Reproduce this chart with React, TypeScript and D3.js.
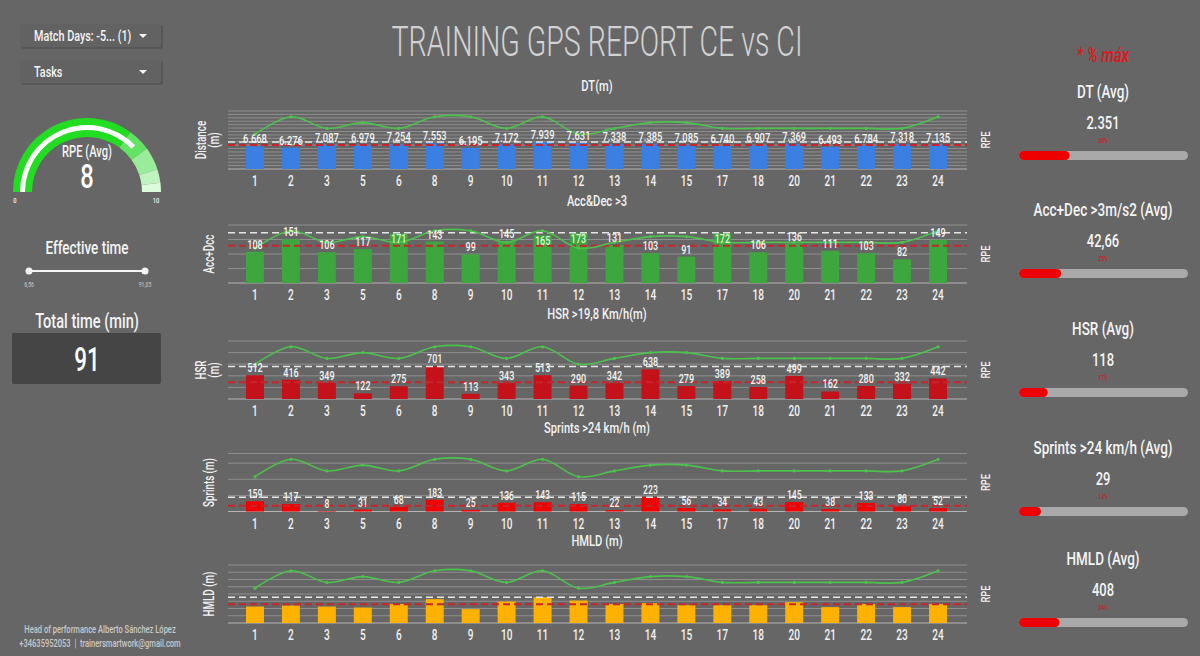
import React from 'react';
import * as d3 from 'd3';

const FONT = "Roboto, 'Liberation Sans', sans-serif";
// condensed look: squeeze glyphs horizontally
const SQ = 0.72;

// training sessions on the x axis
const sessions = ['1', '2', '3', '5', '6', '8', '9', '10', '11', '12', '13', '14', '15', '17', '18', '20', '21', '22', '23', '24'];
// session RPE (secondary axis, 0-10)
const rpe = [6, 9, 7, 8, 7, 9, 9, 7, 9, 6, 7, 8, 8, 7, 7, 7, 7, 7, 7, 9];

const distance = [6668, 6276, 7087, 6979, 7254, 7553, 6195, 7172, 7939, 7631, 7338, 7385, 7085, 6740, 6907, 7369, 6493, 6784, 7318, 7135];
const accDec = [108, 151, 106, 117, 171, 143, 99, 145, 165, 173, 131, 103, 91, 172, 106, 136, 111, 103, 82, 149];
const hsr = [512, 416, 349, 122, 275, 701, 113, 343, 513, 290, 342, 638, 279, 389, 258, 499, 162, 280, 332, 442];
const sprints = [159, 117, 8, 31, 68, 183, 25, 136, 143, 115, 22, 223, 56, 34, 43, 145, 38, 133, 80, 52];
const hmld = [568, 603, 568, 534, 651, 822, 479, 740, 890, 774, 650, 685, 616, 616, 616, 719, 548, 650, 548, 650];

// KPI cards on the right
const kpiTitles = ['DT (Avg)', 'Acc+Dec >3m/s2 (Avg)', 'HSR (Avg)', 'Sprints >24 km/h (Avg)', 'HMLD (Avg)'];
const kpiValues = ['2.351', '42,66', '118', '29', '408'];
const kpiPct = [30, 25, 17, 13, 24];

const effectiveRange = [6.56, 91.05];
const totalTime = 91;

const es = d3.formatLocale({ decimal: ',', thousands: '.', grouping: [3], currency: ['', '€'] });
const fmtInt = es.format(',d');
const fmtDec = es.format('.2f');

type Panel = {
  title: string;
  axis: string[];
  values: number[];
  max: number;
  ticks: number[];
  color: string;
  labels: boolean;
  inside?: number;
  labelSize: number;
};

const panels: Panel[] = [
  { title: 'DT(m)', axis: ['Distance', '(m)'], values: distance, max: 17000, ticks: d3.range(0, 17001, 1000), color: '#3b7fe2', labels: true, labelSize: 13 },
  { title: 'Acc&Dec >3', axis: ['Acc+Dcc'], values: accDec, max: 200, ticks: d3.range(0, 201, 50), color: '#3ea63e', labels: true, inside: 160, labelSize: 12.5 },
  { title: 'HSR >19,8 Km/h(m)', axis: ['HSR', '(m)'], values: hsr, max: 1250, ticks: d3.range(0, 1251, 250), color: '#c4121b', labels: true, labelSize: 12.5 },
  { title: 'Sprints >24 km/h (m)', axis: ['Sprints (m)'], values: sprints, max: 900, ticks: [0, 250, 500, 750, 900], color: '#f00000', labels: true, labelSize: 12 },
  { title: 'HMLD (m)', axis: ['HMLD (m)'], values: hmld, max: 2000, ticks: d3.range(0, 2001, 250), color: '#ffb100', labels: false, labelSize: 12 },
];

const panelTops = [111, 225, 341, 453.5, 565];
const titleYs = [90.5, 205.5, 318.5, 432.5, 545.5];
const plotH = 58;

const x = d3.scaleBand<string>().domain(sessions).range([237, 956]).paddingInner(0.5).paddingOuter(0.25);
const gridX0 = 228;
const gridX1 = 967;

function T({ x, y, rotate, s = SQ, children, ...rest }: any) {
  const tr = `translate(${x},${y})${rotate ? ` rotate(${rotate})` : ''} scale(${s},1)`;
  return <text transform={tr} fontWeight={500} {...rest}>{children}</text>;
}

function ChartPanel({ p, top, titleY }: { p: Panel; top: number; titleY: number }) {
  const base = top + plotH;
  const y = d3.scaleLinear().domain([0, p.max]).range([base, top]);
  const y2 = d3.scaleLinear().domain([0, 10]).range([base, top]);
  const maxV = d3.max(p.values) as number;
  const avgV = d3.mean(p.values) as number;
  const cx = (i: number) => (x(sessions[i]) as number) + x.bandwidth() / 2;
  const line = d3.line<number>()
    .x((_, i) => cx(i))
    .y(d => y2(d))
    .curve(d3.curveCardinal);
  const midY = top + plotH / 2;
  return (
    <g>
      <T x={597} y={titleY} textAnchor="middle" fontSize={15.5} fill="#f2f2f2">{p.title}</T>
      {p.ticks.map(t => (
        <line key={t} x1={gridX0} x2={gridX1} y1={y(t)} y2={y(t)} stroke={t === 0 ? '#b4b4b4' : '#8f8f8f'} strokeWidth={1} />
      ))}
      {p.values.map((v, i) => (
        <rect key={i} x={x(sessions[i])} y={y(v)} width={x.bandwidth()} height={base - y(v)} fill={p.color} />
      ))}
      <line x1={gridX0} x2={gridX1} y1={y(maxV)} y2={y(maxV)} stroke="#e6e6e6" strokeWidth={1.5} strokeDasharray="7,4" />
      <line x1={gridX0} x2={gridX1} y1={y(avgV)} y2={y(avgV)} stroke="#c8262c" strokeWidth={2} strokeDasharray="7,4" />
      <path d={line(rpe) || ''} fill="none" stroke="#4cc24c" strokeWidth={1.6} />
      {rpe.map((r, i) => (
        <circle key={i} cx={cx(i)} cy={y2(r)} r={1.6} fill="#4cc24c" />
      ))}
      {p.labels && p.values.map((v, i) => {
        const inside = p.inside !== undefined && v >= p.inside;
        return (
          <T key={i} x={cx(i)} y={inside ? y(v) + 10 : y(v) - 3} textAnchor="middle" fontSize={p.labelSize}
            fill={inside ? '#dcf7dc' : '#f4f4f4'}>
            {fmtInt(v)}
          </T>
        );
      })}
      {sessions.map((s, i) => (
        <T key={s} x={cx(i)} y={base + 17} textAnchor="middle" fontSize={14} fill="#f2f2f2">{s}</T>
      ))}
      <T x={p.axis.length > 1 ? 206 : 214} y={midY} rotate={-90} s={0.7} textAnchor="middle" fontSize={14} fill="#f2f2f2">
        {p.axis.map((a: string, k: number) => (
          <tspan key={k} x={0} dy={k === 0 ? 0 : 13}>{a}</tspan>
        ))}
      </T>
      <T x={990} y={midY} rotate={-90} textAnchor="middle" fontSize={13} fill="#f2f2f2">RPE</T>
    </g>
  );
}

function Gauge() {
  const cx = 87;
  const cy = 192;
  const rpeAvg = d3.mean(rpe) as number;
  const a = d3.scaleLinear().domain([0, 10]).range([-Math.PI / 2, Math.PI / 2]);
  const bands = [
    { from: 0, to: 7, color: '#22dd22' },
    { from: 7, to: 8, color: '#62e462' },
    { from: 8, to: 9, color: '#9aec9a' },
    { from: 9, to: 9.6, color: '#bff3bf' },
    { from: 9.6, to: 10, color: '#dcfadc' },
  ];
  const bandArc = d3.arc<{ from: number; to: number }>()
    .innerRadius(55).outerRadius(74)
    .startAngle(d => a(d.from)).endAngle(d => a(d.to));
  const valueArc = d3.arc()({ innerRadius: 62, outerRadius: 67, startAngle: a(0), endAngle: a(rpeAvg) });
  return (
    <g transform={`translate(${cx},${cy})`}>
      {bands.map((b, i) => <path key={i} d={bandArc(b) || ''} fill={b.color} />)}
      <path d={valueArc || ''} fill="#ffffff" />
      <T x={0} y={-35} s={0.7} textAnchor="middle" fontSize={16} fill="#f4f4f4">RPE (Avg)</T>
      <T x={0} y={-4} s={0.7} textAnchor="middle" fontSize={34} fill="#ffffff">{d3.format('.0f')(rpeAvg)}</T>
      <T x={-72} y={11} textAnchor="middle" fontSize={8} fill="#f0f0f0">0</T>
      <T x={69} y={11} textAnchor="middle" fontSize={8} fill="#f0f0f0">10</T>
    </g>
  );
}

function Dropdown({ y, label }: { y: number; label: string }) {
  return (
    <g>
      <rect x={21} y={y + 1} width={142} height={24} fill="#575757" rx={2} />
      <rect x={20} y={y} width={141} height={23} fill="#626262" rx={2} />
      <T x={34} y={y + 17} fontSize={15} fill="#f4f4f4">{label}</T>
      <path d={`M${139},${y + 10}L${147},${y + 10}L${143},${y + 14}Z`} fill="#f4f4f4" />
    </g>
  );
}

function LeftPanel() {
  const sx = d3.scaleLinear().domain(effectiveRange).range([29, 145]);
  return (
    <g>
      <Dropdown y={24} label="Match Days: -5... (1)" />
      <Dropdown y={60} label="Tasks" />
      <Gauge />
      <T x={87} y={254} s={0.75} textAnchor="middle" fontSize={18} fill="#f4f4f4">Effective time</T>
      <line x1={sx(effectiveRange[0])} x2={sx(effectiveRange[1])} y1={271} y2={271} stroke="#f4f4f4" strokeWidth={2} />
      {effectiveRange.map((v, i) => (
        <g key={i}>
          <circle cx={sx(v)} cy={271} r={3.5} fill="#f4f4f4" />
          <T x={sx(v)} y={287} textAnchor="middle" fontSize={7} fill="#bdbdbd">{fmtDec(v)}</T>
        </g>
      ))}
      <T x={87} y={328} s={0.73} textAnchor="middle" fontSize={20} fill="#f4f4f4">Total time (min)</T>
      <rect x={12} y={333} width={149} height={51} rx={2} fill="#454545" />
      <T x={87} y={371} s={0.68} textAnchor="middle" fontSize={33} fill="#ffffff">{totalTime}</T>
      <T x={100} y={633} textAnchor="middle" fontSize={10.5} fill="#c8c8c8">Head of performance Alberto Sánchez López</T>
      <T x={100} y={647} textAnchor="middle" fontSize={10.5} fill="#c8c8c8">{'+34635952053\u00a0\u00a0|\u00a0\u00a0trainersmartwork@gmail.com'}</T>
    </g>
  );
}

function RightPanel() {
  const kpiTops = [92, 210, 329, 448, 559];
  const bx = d3.scaleLinear().domain([0, 100]).range([1019, 1188]);
  return (
    <g>
      <T x={1103} y={62} s={0.75} textAnchor="middle" fontSize={20} fontStyle="italic" fill="#e0161c">* % máx</T>
      {kpiTitles.map((t, i) => {
        const ty = kpiTops[i];
        return (
          <g key={t}>
            <T x={1103} y={ty + 6} s={0.75} textAnchor="middle" fontSize={18} fill="#f4f4f4">{t}</T>
            <T x={1103} y={ty + 37} textAnchor="middle" fontSize={18} fill="#f4f4f4">{kpiValues[i]}</T>
            <T x={1103} y={ty + 51} textAnchor="middle" fontSize={7} fill="#d0161c">{kpiPct[i]}%</T>
            <rect x={bx(0)} y={ty + 59} width={bx(100) - bx(0)} height={9} rx={4.5} fill="#a9a9a9" />
            <rect x={bx(0)} y={ty + 59} width={bx(kpiPct[i]) - bx(0)} height={9} rx={4.5} fill="#ee0000" />
          </g>
        );
      })}
    </g>
  );
}

export default function App() {
  return (
    <svg width={1200} height={656} style={{ position: 'absolute', left: 0, top: 0, background: '#666666' }} fontFamily={FONT}>
      <rect x={0} y={0} width={1200} height={656} fill="#666666" />
      <text x={597} y={56} textAnchor="middle" fontSize={42} fontWeight={300} fill="#d2d2d2" textLength={411} lengthAdjust="spacingAndGlyphs">
        TRAINING GPS REPORT CE vs CI
      </text>
      <LeftPanel />
      {panels.map((p, i) => <ChartPanel key={p.title} p={p} top={panelTops[i]} titleY={titleYs[i]} />)}
      <RightPanel />
    </svg>
  );
}
